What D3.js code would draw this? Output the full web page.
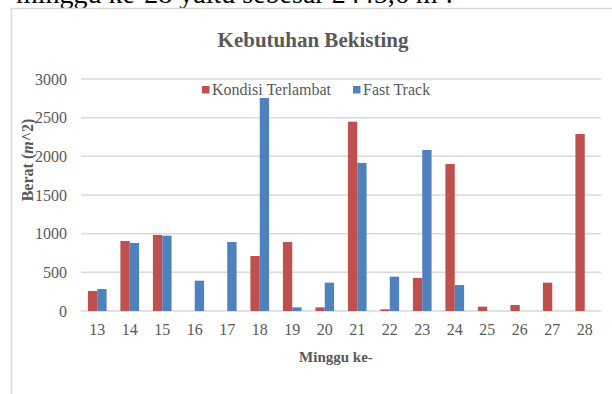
<!DOCTYPE html>
<html>
<head>
<meta charset="utf-8">
<script src="https://cdn.jsdelivr.net/npm/d3@7"></script>
<style>
  html, body { margin: 0; padding: 0; background: #ffffff; }
  svg { display: block; }
</style>
</head>
<body>
<svg id="chart" width="612" height="394"></svg>
<script>
// ---- data ----
const weeks = ["13","14","15","16","17","18","19","20","21","22","23","24","25","26","27","28"];
const kondisiTerlambat = [259, 905, 983, 0, 0, 711, 892, 47, 2448, 22, 427, 1901, 56, 78, 366, 2289];
const fastTrack = [284, 879, 974, 392, 892, 2754, 47, 366, 1914, 444, 2082, 336, 0, 0, 0, 0];
const seriesNames = ["Kondisi Terlambat", "Fast Track"];
const seriesColors = ["#c0504d", "#4f81bd"];
const yTicks = [0, 500, 1000, 1500, 2000, 2500, 3000];
const chartTitle = "Kebutuhan Bekisting";
const xTitle = "Minggu ke-";
const headerText = "minggu ke-28 yaitu sebesar 2445,6 m\u00B2.";

const svg = d3.select("#chart");
const serif = "'Liberation Serif', 'Times New Roman', serif";
const textColor = "#595959";

// page text cut at top
svg.append("text")
  .attr("x", 16).attr("y", 3)
  .attr("font-family", serif).attr("font-size", 28)
  .attr("fill", "#000")
  .text(headerText);

// chart area border
svg.append("rect")
  .attr("x", 11.5).attr("y", 8.5)
  .attr("width", 620).attr("height", 420)
  .attr("fill", "#fff")
  .attr("stroke", "#d9d9d9").attr("stroke-width", 1.5);

// title
svg.append("text")
  .attr("x", 313).attr("y", 47)
  .attr("text-anchor", "middle")
  .attr("font-family", serif).attr("font-size", 21).attr("font-weight", "bold")
  .attr("fill", textColor)
  .text(chartTitle);

// scales
const x0 = d3.scaleBand().domain(weeks).range([81, 601]).paddingInner(0.425).paddingOuter(0.2125);
const x1 = d3.scaleBand().domain(seriesNames).range([0, x0.bandwidth()]);
const y = d3.scaleLinear().domain([0, 3000]).range([311, 79]);

// gridlines
svg.append("g").selectAll("line").data(yTicks).join("line")
  .attr("x1", 81).attr("x2", 601)
  .attr("y1", d => y(d)).attr("y2", d => y(d))
  .attr("stroke", "#d9d9d9").attr("stroke-width", 1.5);

// y axis tick labels
const yAxis = d3.axisLeft(y).tickValues(yTicks).tickSize(0).tickPadding(0).tickFormat(d3.format("d"));
const yg = svg.append("g").attr("transform", "translate(67,0)").call(yAxis);
yg.select(".domain").remove();
yg.selectAll("text")
  .attr("font-family", serif).attr("font-size", 16).attr("fill", textColor)
  .attr("dy", "0.32em");

// bars
const rows = weeks.map((w, i) => ({ week: w, values: [kondisiTerlambat[i], fastTrack[i]] }));
const groups = svg.append("g").selectAll("g").data(rows).join("g")
  .attr("transform", d => `translate(${x0(d.week)},0)`);
groups.selectAll("rect")
  .data(d => d.values.map((v, j) => ({ name: seriesNames[j], value: v, color: seriesColors[j] })))
  .join("rect")
  .filter(d => d.value > 0)
  .attr("x", d => x1(d.name))
  .attr("width", x1.bandwidth())
  .attr("y", d => y(d.value))
  .attr("height", d => y(0) - y(d.value))
  .attr("fill", d => d.color);

// x axis labels
const xAxis = d3.axisBottom(x0).tickSize(0).tickPadding(0);
const xg = svg.append("g").attr("transform", "translate(0,324)").call(xAxis);
xg.select(".domain").remove();
xg.selectAll("text")
  .attr("font-family", serif).attr("font-size", 16).attr("fill", textColor)
  .attr("dy", "0.71em");

// x title
svg.append("text")
  .attr("x", 336).attr("y", 362)
  .attr("text-anchor", "middle")
  .attr("font-family", serif).attr("font-size", 15).attr("font-weight", "bold")
  .attr("fill", textColor)
  .text(xTitle);

// y title
const yt = svg.append("text")
  .attr("transform", "translate(33,160) rotate(-90)")
  .attr("text-anchor", "middle")
  .attr("font-family", serif).attr("font-size", 16).attr("font-weight", "bold")
  .attr("fill", textColor);
yt.append("tspan").text("Berat (");
yt.append("tspan").attr("font-style", "italic").text("m");
yt.append("tspan").text("^2)");

// legend
const legendItems = [
  { name: seriesNames[0], color: seriesColors[0], x: 202 },
  { name: seriesNames[1], color: seriesColors[1], x: 353 }
];
const lg = svg.append("g").selectAll("g").data(legendItems).join("g")
  .attr("transform", d => `translate(${d.x},0)`);
lg.append("rect").attr("x", 0).attr("y", 86).attr("width", 7.5).attr("height", 7.5)
  .attr("fill", d => d.color);
lg.append("text").attr("x", 10).attr("y", 95)
  .attr("font-family", serif).attr("font-size", 16).attr("fill", textColor)
  .text(d => d.name);
</script>
</body>
</html>
